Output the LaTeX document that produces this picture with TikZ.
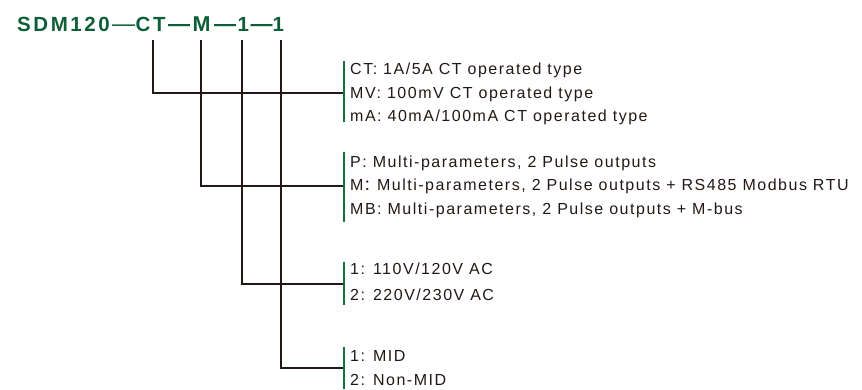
\documentclass[tikz,border=0pt]{standalone}
\usepackage{fontspec}
\setmainfont{Liberation Sans}
\newfontfamily\lblfont[LetterSpace=9.5]{Liberation Sans}
\newfontfamily\ttlfont[LetterSpace=12.5]{Liberation Sans}
\newfontfamily\cjkfont{Noto Sans CJK SC}
\definecolor{titlegreen}{HTML}{0E5E37}
\definecolor{bargreen}{HTML}{17713F}
\definecolor{ink}{HTML}{231815}
\begin{document}
\begin{tikzpicture}[x=1pt,y=-1pt,
  ttl/.style={font=\ttlfont\bfseries\fontsize{20.5}{24}\selectfont, text=titlegreen, inner sep=0pt, anchor=base west},
  tdash/.style={font=\bfseries\fontsize{22}{24}\selectfont, text=titlegreen, inner sep=0pt, anchor=base west},
  tdashthin/.style={font=\fontsize{23}{24}\selectfont, text=titlegreen, inner sep=0pt, anchor=base west},
  opt/.style={font=\lblfont\fontsize{16}{18}\selectfont, text=ink, inner sep=0pt, anchor=base west},
  conn/.style={draw=ink, line width=2pt},
  bar/.style={draw=bargreen, line width=2pt}]
\useasboundingbox (0,0) rectangle (862,389);
% title pieces
\node[ttl] (t0) at (17,31) {SDM120};
\node[tdashthin] (d1) at (112,31) {—};
\node[ttl] (tct) at (135.5,31) {CT};
\node[tdash] (d2) at (168,31) {—};
\node[ttl] (tm) at (192.5,31) {\fontsize{21.5}{24}\selectfont M};
\node[tdash] (d3) at (214,31) {—};
\node[ttl] (tv) at (237.5,31) {1};
\node[tdash] (d4) at (250.5,31) {—};
\node[ttl] (tc) at (272.5,31) {1};
% connector start points
\coordinate (ctTop) at (153,40);
\coordinate (mTop) at (201,40);
\coordinate (vTop) at (242,40);
\coordinate (cTop) at (281,40);
\coordinate (g1) at (344,93);
\coordinate (g2) at (344,186);
\coordinate (g3) at (344,284);
\coordinate (g4) at (344,368);
% green bars
\coordinate (b1t) at (344,61); \coordinate (b1b) at (344,122);
\coordinate (b2t) at (344,152); \coordinate (b2b) at (344,222);
\coordinate (b3t) at (344,262); \coordinate (b3b) at (344,305);
\coordinate (b4t) at (344,347); \coordinate (b4b) at (344,389);
\draw[conn] (ctTop) |- (g1);
\draw[conn] (mTop) |- (g2);
\draw[conn] (vTop) |- (g3);
\draw[conn] (cTop) |- (g4);
\draw[bar] (b1t) -- (b1b);
\draw[bar] (b2t) -- (b2b);
\draw[bar] (b3t) -- (b3b);
\draw[bar] (b4t) -- (b4b);
% options
\node[opt] (o11) at (350,74.8) {CT: 1A/5A CT operated type};
\node[opt] (o12) at (350,98.3) {MV: 100mV CT operated type};
\node[opt] (o13) at (350,121.8) {mA: 40mA/100mA CT operated type};
\node[opt] (o21) at (350,167) {P: Multi-parameters, 2 Pulse outputs};
\node[opt] (o22) at (350,190.5) {M{\cjkfont\fontsize{15}{18}\selectfont ：}\hspace{-1.5pt}Multi-parameters, 2 Pulse outputs + RS485 Modbus RTU};
\node[opt] (o23) at (350,214) {MB: Multi-parameters, 2 Pulse outputs + M-bus};
\node[opt] (o31) at (350,274.5) {1: 110V/120V AC};
\node[opt] (o32) at (350,300.5) {2: 220V/230V AC};
\node[opt] (o41) at (350,361.7) {1: MID};
\node[opt] (o42) at (350,385) {2: Non-MID};
\end{tikzpicture}
\end{document}
